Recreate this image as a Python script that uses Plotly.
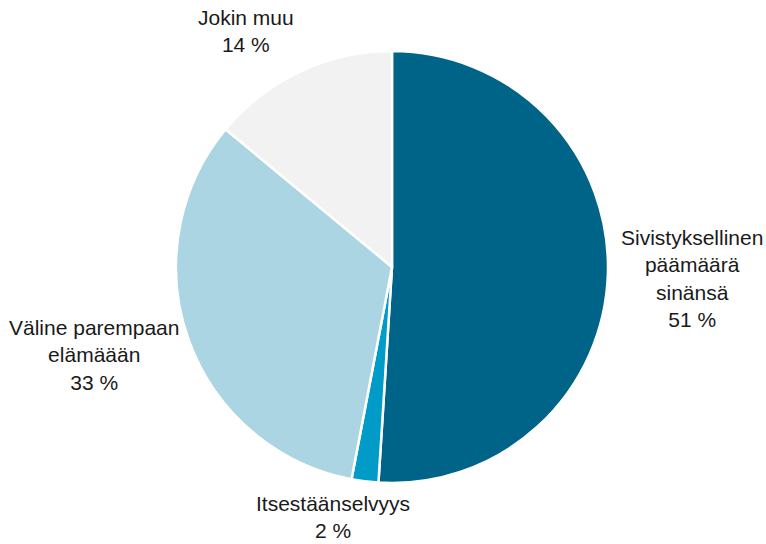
import plotly.graph_objects as go

# Category names, shares (%) and slice colours, clockwise from 12 o'clock
categories = ["Sivistyksellinen päämäärä sinänsä", "Itsestäänselvyys",
              "Väline parempaan elämäään", "Jokin muu"]
values = [51, 2, 33, 14]
colors = ["#006388", "#009CC7", "#ABD5E2", "#F2F2F2"]

# Label text with manual line breaks
label_lines = [["Sivistyksellinen", "päämäärä", "sinänsä"],
               ["Itsestäänselvyys"],
               ["Väline parempaan", "elämäään"],
               ["Jokin muu"]]

W, H = 766, 544
cx, cy, r = 392, 267, 216

fig = go.Figure(go.Pie(
    labels=categories,
    values=values,
    sort=False,
    direction="clockwise",
    rotation=0,
    marker=dict(colors=colors, line=dict(color="white", width=2.5)),
    textinfo="none",
    hoverinfo="label+percent",
    domain=dict(x=[(cx - r) / W, (cx + r) / W],
                y=[(H - cy - r) / H, (H - cy + r) / H]),
    showlegend=False,
))

# Label anchor points in pixels (centre of each text block)
label_pos = [(692, 278), (333, 517), (94, 355), (246, 31)]

for lines, v, (px, py) in zip(label_lines, values, label_pos):
    fig.add_annotation(
        x=px / W, y=1 - py / H, xref="paper", yref="paper",
        text="<br>".join(lines + [f"{v} %"]),
        showarrow=False, align="center",
        xanchor="center", yanchor="middle",
        font=dict(family="Liberation Sans, Arial, sans-serif", size=21, color="#1a1a1a"),
    )

fig.update_layout(
    width=W, height=H,
    margin=dict(l=0, r=0, t=0, b=0),
    paper_bgcolor="white",
    plot_bgcolor="white",
)

fig.write_html("out.html")
